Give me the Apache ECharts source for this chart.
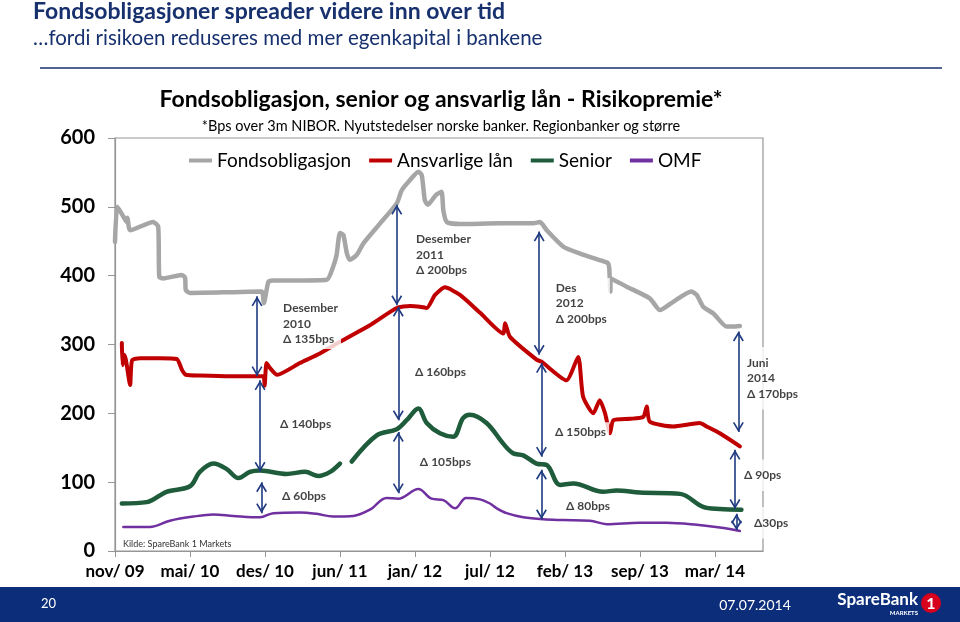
<!DOCTYPE html>
<html><head><meta charset="utf-8">
<script src="https://cdn.jsdelivr.net/npm/echarts/dist/echarts.min.js"></script>
<style>html,body{margin:0;padding:0;background:#fff;}#c{width:960px;height:622px;}</style>
</head><body><div id="c"></div>
<script>
// x values are days since the first (nov/ 09) tick; ticks every 198 days
const tickLabels = ['nov/ 09','mai/ 10','des/ 10','jun/ 11','jan/ 12','jul/ 12','feb/ 13','sep/ 13','mar/ 14'];
const TICK_DAYS = 198;
const X_MAX = 1711;
const yTicks = [0,100,200,300,400,500,600];
const seriesNames = ['Fondsobligasjon','Ansvarlige lån','Senior','OMF'];

const fondsobligasjon = [[0,449],[6,500],[22,486],[31,478],[33,484],[40,466],[101,478],[114,471],[117,398],[128,396],[176,401],[185,397],[187,379],[198,375],[304,376],[387,377],[393,360],[405,391],[418,393],[488,393],[559,394],[576,413],[585,430],[594,462],[603,459],[612,433],[620,423],[638,430],[656,447],[700,476],[744,505],[757,524],[779,539],[801,551],[810,546],[818,510],[826,503],[847,517],[862,522],[867,495],[876,478],[911,475],[1016,476],[1104,476],[1122,478],[1140,466],[1184,442],[1228,432],[1294,420],[1302,418],[1305,411],[1308,377],[1309,396],[1351,384],[1412,367],[1439,350],[1474,362],[1522,377],[1536,372],[1553,355],[1580,345],[1615,326],[1631,326],[1650,327]];

const ansvarligeLaan = [[18,302],[20,270],[24,285],[29,277],[40,241],[45,277],[66,280],[119,280],[163,279],[177,263],[187,256],[224,255],[304,254],[391,254],[395,240],[400,273],[409,266],[428,256],[488,273],[541,287],[594,304],[673,328],[744,353],[779,356],[805,355],[823,353],[845,372],[871,383],[911,372],[964,346],[1025,316],[1030,331],[1043,311],[1113,278],[1126,275],[1192,248],[1223,282],[1236,224],[1263,200],[1280,219],[1294,200],[1307,171],[1316,190],[1360,192],[1395,195],[1404,210],[1412,188],[1474,181],[1544,186],[1562,181],[1597,171],[1650,152]];

const senior = [[18,69],[84,71],[136,86],[198,94],[224,115],[260,127],[295,119],[326,106],[356,115],[383,117],[453,112],[502,115],[537,109],[568,115],[594,127],[605,null],[625,130],[691,168],[744,177],[770,190],[801,207],[823,186],[858,171],[893,166],[919,193],[937,198],[981,186],[1025,156],[1051,142],[1078,139],[1113,127],[1140,125],[1175,96],[1210,98],[1289,86],[1324,88],[1386,85],[1492,83],[1553,64],[1597,61],[1654,60]];

const omf = [[22,35],[92,35],[145,44],[207,50],[260,53],[312,51],[383,49],[418,55],[488,56],[532,54],[576,50],[629,51],[673,60],[717,77],[748,76],[801,90],[836,76],[867,74],[898,62],[927,77],[964,75],[990,69],[1008,62],[1034,55],[1078,49],[1131,46],[1184,45],[1254,44],[1298,39],[1386,41],[1456,41],[1536,38],[1597,34],[1650,29]];

// spread arrows
const arrowDays = [375,383,387, 744,748,748, 1120,1126,1126, 1646,1637,1641];
const arrowFrom = [370,248,100, 503,355,173, 464,273,118, 319,147,54];
const arrowTo   = [254,115,55,  357,190,84,  285,137,46,  173,61,30];

// annotation texts
const noteDays   = [436,428,433, 787,784,797, 1156,1154,1183, 1661,1653,1679];
const noteValues = [330,185,80,  430,260,129, 360,173,65,    251,110,41];
const noteTexts  = ['Desember\n2010\nΔ 135bps','Δ 140bps','Δ 60bps',
                    'Desember\n2011\nΔ 200bps','Δ 160bps','Δ 105bps',
                    'Des\n2012\nΔ 200bps','Δ 150bps','Δ 80bps',
                    'Juni\n2014\nΔ 170bps','Δ 90ps','Δ30ps'];
const notePadBig = [false,false,false,false,false,false,false,false,false,true,true,true];

const colors = ['#a6a6a6','#c00000','#1e5c3b','#7030a0'];
const FONT = 'Lato';
const NAVY = '#17306e';
const chevron = 'path://M0,0 L6,10 L4.5,11 L0,3.6 L-4.5,11 L-6,10 Z M-0.05,-11 L0.05,-11 L0,-10.95 Z';

const chart = echarts.init(document.getElementById('c'));
const lineSeries = (name, data, color, width, smooth) => ({
  name, type:'line', data, symbol:'none', showSymbol:false, smooth,
  connectNulls:false, lineStyle:{color, width, cap:'round', join:'round'}, itemStyle:{color},
  animation:false, z:3
});

chart.setOption({
  animation:false,
  color: colors,
  grid:{left:115, right:197, top:138, bottom:71, show:true, borderColor:'#969696', borderWidth:1.2},
  legend:{
    data: seriesNames.map(n => ({name:n, icon:'rect'})), top:146, left:184, itemWidth:23, itemHeight:4, itemGap:18,
    textStyle:{fontFamily:FONT, fontSize:19, color:'#000'}
  },
  xAxis:{
    type:'value', min:0, max:X_MAX, interval:TICK_DAYS,
    splitLine:{show:false},
    axisLine:{show:true, lineStyle:{color:'#969696', width:1.2}},
    axisTick:{show:true, length:6, lineStyle:{color:'#969696'}},
    axisLabel:{
      showMaxLabel:false, margin:12, color:'#000', fontFamily:FONT, fontWeight:'bold', fontSize:17,
      formatter: v => { const i = Math.round(v / TICK_DAYS); return (Math.abs(v - i*TICK_DAYS) < 0.5 && tickLabels[i]) ? tickLabels[i] : ''; }
    }
  },
  yAxis:{
    type:'value', min:yTicks[0], max:yTicks[yTicks.length-1], interval:100,
    splitLine:{show:false},
    axisLine:{show:true, lineStyle:{color:'#969696', width:1.2}},
    axisTick:{show:true, length:7, lineStyle:{color:'#969696'}},
    axisLabel:{margin:20, color:'#000', fontFamily:FONT, fontWeight:'bold', fontSize:20}
  },
  series:[
    lineSeries(seriesNames[0], fondsobligasjon, colors[0], 4.5, 0.2),
    lineSeries(seriesNames[1], ansvarligeLaan, colors[1], 4, 0.2),
    lineSeries(seriesNames[2], senior, colors[2], 4.5, 0.35),
    lineSeries(seriesNames[3], omf, colors[3], 2.5, 0.35),
    {
      type:'scatter', name:'notes', symbolSize:0, z:5, silent:true, animation:false,
      data: noteDays.map((d,i)=>({
        value:[d, noteValues[i]],
        label:{padding: notePadBig[i] ? [8,3] : [2,3]}
      })),
      label:{
        show:true, position:'right', distance:0, align:'left',
        formatter: p => noteTexts[p.dataIndex],
        fontFamily:FONT, fontWeight:'bold', fontSize:12, lineHeight:15.5, color:'#111',
        backgroundColor:'#fff'
      },
      markLine:{
        silent:true, animation:false,
        symbol:[chevron, chevron], symbolSize:[11,20], symbolKeepAspect:true,
        lineStyle:{color:'#1f3a80', width:1.6, type:'solid'},
        label:{show:false},
        data: arrowDays.map((d,i)=>[{coord:[d, arrowFrom[i]]},{coord:[d, arrowTo[i]]}])
      }
    }
  ],
  graphic:[
    {type:'text', x:33, y:12, style:{text:'Fondsobligasjoner spreader videre inn over tid', font:'bold 23px '+FONT, fill:NAVY, verticalAlign:'middle'}},
    {type:'text', x:33, y:38, style:{text:'…fordi risikoen reduseres med mer egenkapital i bankene', font:'20.5px '+FONT, fill:NAVY, verticalAlign:'middle'}},
    {type:'line', shape:{x1:40, y1:68, x2:942, y2:68}, style:{stroke:NAVY, lineWidth:1.5}},
    {type:'text', x:441, y:100, style:{text:'Fondsobligasjon, senior og ansvarlig lån - Risikopremie*', font:'bold 23px '+FONT, fill:'#000', align:'center', verticalAlign:'middle'}},
    {type:'text', x:441, y:126, style:{text:'*Bps over 3m NIBOR. Nyutstedelser norske banker. Regionbanker og større', font:'14.5px '+FONT, fill:'#000', align:'center', verticalAlign:'middle'}},
    {type:'text', x:123, y:544, style:{text:'Kilde: SpareBank 1 Markets', font:'9px '+FONT, fill:'#333', verticalAlign:'middle'}},
    {type:'rect', shape:{x:0, y:587, width:960, height:35}, style:{fill:'#0b2d7a'}},
    {type:'text', x:41, y:604, style:{text:'20', font:'13px '+FONT, fill:'#fff', verticalAlign:'middle'}},
    {type:'text', x:755, y:605, style:{text:'07.07.2014', font:'14px '+FONT, fill:'#fff', align:'center', verticalAlign:'middle'}},
    {type:'text', x:918, y:600, style:{text:'SpareBank', font:'bold 17px '+FONT, fill:'#fff', align:'right', verticalAlign:'middle'}},
    {type:'text', x:918, y:613, style:{text:'MARKETS', font:'bold 6px '+FONT, fill:'#fff', align:'right', verticalAlign:'middle'}},
    {type:'circle', shape:{cx:931, cy:603, r:10}, style:{fill:'#d7001d'}},
    {type:'text', x:931, y:604, style:{text:'1', font:'bold 16px '+FONT, fill:'#fff', align:'center', verticalAlign:'middle'}}
  ]
});
</script>
</body></html>
